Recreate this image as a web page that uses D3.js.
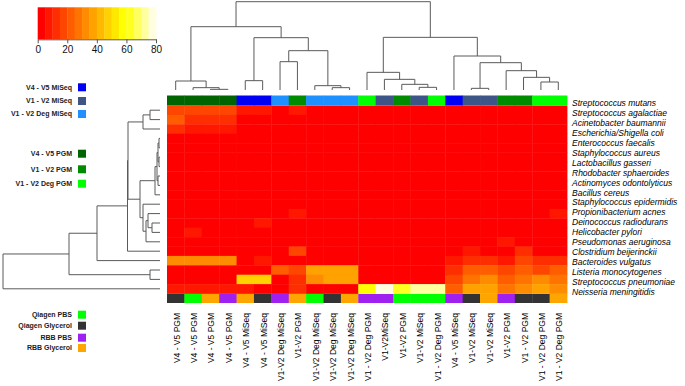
<!DOCTYPE html>
<html>
<head>
<meta charset="utf-8">
<script src="https://cdn.jsdelivr.net/npm/d3@7"></script>
<style>
  body { margin: 0; background: #fff; }
  text { font-family: "Liberation Sans", Arial, sans-serif; }
</style>
</head>
<body>
<div id="heatmap"></div>
<script>
// species (rows, top to bottom)
const species = ["Streptococcus mutans", "Streptococcus agalactiae", "Acinetobacter baumannii",
  "Escherichia/Shigella coli", "Enterococcus faecalis", "Staphylococcus aureus", "Lactobacillus gasseri",
  "Rhodobacter sphaeroides", "Actinomyces odontolyticus", "Bacillus cereus", "Staphylococcus epidermidis",
  "Propionibacterium acnes", "Deinococcus radiodurans", "Helicobacter pylori", "Pseudomonas aeruginosa",
  "Clostridium beijerinckii", "Bacteroides vulgatus", "Listeria monocytogenes",
  "Streptococcus pneumoniae", "Neisseria meningitidis"];

// samples (columns, left to right)
const colLabels = ["V4 - V5 PGM", "V4 - V5 PGM", "V4 - V5 PGM", "V4 - V5 PGM", "V4 - V5 MiSeq",
  "V4 - V5 MiSeq", "V1-V2 Deg MiSeq", "V1-V2 PGM", "V1-V2 Deg MiSeq", "V1-V2 Deg MiSeq",
  "V1-V2 Deg MiSeq", "V1 - V2 Deg PGM", "V1-V2MiSeq", "V1-V2 PGM", "V1-V2 MiSeq", "V1 - V2 Deg PGM",
  "V4 - V5 MiSeq", "V1-V2 MiSeq", "V1-V2 MiSeq", "V1-V2 PGM", "V1 - V2 PGM", "V1 - V2 Deg PGM",
  "V1 - V2 Deg PGM"];

const colMethod = ["V4 - V5 PGM", "V4 - V5 PGM", "V4 - V5 PGM", "V4 - V5 PGM", "V4 - V5 MiSeq",
  "V4 - V5 MiSeq", "V1 - V2 Deg MiSeq", "V1 - V2 PGM", "V1 - V2 Deg MiSeq", "V1 - V2 Deg MiSeq",
  "V1 - V2 Deg MiSeq", "V1 - V2 Deg PGM", "V1 - V2 MiSeq", "V1 - V2 PGM", "V1 - V2 MiSeq",
  "V1 - V2 Deg PGM", "V4 - V5 MiSeq", "V1 - V2 MiSeq", "V1 - V2 MiSeq", "V1 - V2 PGM", "V1 - V2 PGM",
  "V1 - V2 Deg PGM", "V1 - V2 Deg PGM"];

const colBuffer = ["Qiagen Glycerol", "Qiagen PBS", "RBB Glycerol", "RBB PBS", "RBB Glycerol",
  "Qiagen Glycerol", "RBB PBS", "RBB Glycerol", "Qiagen PBS", "Qiagen Glycerol", "RBB Glycerol",
  "RBB PBS", "RBB PBS", "Qiagen PBS", "Qiagen PBS", "Qiagen PBS", "RBB PBS", "Qiagen Glycerol",
  "RBB Glycerol", "RBB PBS", "Qiagen Glycerol", "Qiagen Glycerol", "RBB Glycerol"];

// cell values, one array per species
const values = [
  [17,17,17,17, 8, 8, 3, 8, 0, 0, 0, 0, 0, 0, 0, 0, 0, 0, 0, 0, 0, 0, 0],
  [20,13,13,13, 0, 0, 0, 0, 0, 0, 0, 0, 0, 0, 0, 0, 0, 0, 0, 0, 0, 0, 0],
  [13, 9, 9, 9, 0, 0, 0, 0, 0, 0, 0, 0, 0, 0, 0, 0, 0, 0, 0, 0, 0, 0, 0],
  [ 0, 0, 0, 0, 0, 0, 0, 0, 0, 0, 0, 0, 0, 0, 0, 0, 0, 0, 0, 0, 0, 0, 0],
  [ 0, 0, 0, 0, 0, 0, 0, 0, 0, 0, 0, 0, 0, 0, 0, 0, 0, 0, 0, 0, 0, 0, 0],
  [ 0, 0, 0, 0, 0, 0, 0, 0, 0, 0, 0, 0, 0, 0, 0, 0, 0, 0, 0, 0, 0, 0, 0],
  [ 0, 0, 0, 0, 0, 0, 0, 0, 0, 0, 0, 0, 0, 0, 0, 0, 0, 0, 0, 0, 0, 0, 0],
  [ 0, 0, 0, 0, 0, 0, 0, 0, 0, 0, 0, 0, 0, 0, 0, 0, 0, 0, 0, 0, 0, 0, 0],
  [ 0, 0, 0, 0, 0, 0, 0, 0, 0, 0, 0, 0, 0, 0, 0, 0, 0, 0, 0, 0, 0, 0, 0],
  [ 0, 0, 0, 0, 0, 0, 0, 0, 0, 0, 0, 0, 0, 0, 0, 0, 0, 0, 0, 0, 0, 0, 0],
  [ 0, 0, 0, 0, 0, 0, 0, 0, 0, 0, 0, 0, 0, 0, 0, 0, 0, 0, 0, 0, 0, 0, 0],
  [ 0, 0, 0, 0, 0, 0, 0, 8, 0, 0, 0, 0, 0, 0, 0, 0, 0, 0, 0, 0, 0, 0, 7],
  [ 0, 0, 0, 0, 0, 7, 0, 0, 0, 0, 0, 0, 0, 0, 0, 0, 0, 0, 0, 0, 0, 0, 0],
  [ 0, 7, 0, 0, 0, 0, 0, 0, 0, 0, 0, 0, 0, 0, 0, 0, 0, 0, 0, 0, 0, 0, 0],
  [ 0, 0, 0, 0, 0, 0, 0, 0, 0, 0, 0, 0, 0, 0, 0, 0, 0, 0, 0, 6, 0, 0, 0],
  [ 0, 0, 0, 0, 0, 0, 0,17, 0, 0, 0, 0, 0, 0, 0, 0, 0, 8, 0, 0,14, 0, 0],
  [30,32,32,32, 0, 8, 0, 0, 0, 0, 0, 0, 0, 0, 0, 0, 5,12,12, 8,15,10,10],
  [ 0, 0, 0, 0, 0, 0,22,18,38,38,38, 0, 0, 0, 0, 0,12,22,22,16,20,18,22],
  [ 0, 0, 0, 0,46,46, 0,10,30,37,37, 0, 0, 0, 0, 0,18,28,33,20,25,30,28],
  [ 8, 8, 8, 8, 8, 0, 0,12, 0, 0, 0,57,78,62,70,70,22,38,38,28,30,38,33]
];

// hclust style merges: negative = leaf (1-based), positive = earlier merge step
const colMerge = [
  [-3, -4, 2], [-2, 1, 7], [-1, 2, 27], [-5, -6, 28], [-7, -8, 85], [-10, -11, 7],
  [-9, 6, 13], [5, 7, 118], [4, 8, 157], [3, 9, 190], [-15, -16, 8], [-14, 11, 17],
  [-13, 12, 32], [-12, 13, 53], [-18, -19, 5], [-22, -23, 24], [-21, 16, 38],
  [-20, 17, 58], [15, 18, 82], [-17, 19, 102], [14, 20, 158], [10, 21, 265]
];
const rowMerge = [
  [-1, -2, 10], [1, -3, 17], [-4, -5, 1], [-6, -7, 1], [3, 4, 2], [-8, -9, 2],
  [5, 6, 3], [7, -10, 5], [-13, -14, 8], [-12, 9, 12], [10, -15, 14], [-11, 11, 17],
  [8, 12, 20], [2, 13, 32], [14, -16, 32.5], [15, -17, 63], [-18, -19, 10],
  [16, 17, 91], [18, -20, 157]
];

const keyTicks = [0, 20, 40, 60, 80];
const methodNames = ["V4 - V5 MiSeq", "V1 - V2 MiSeq", "V1 - V2 Deg MiSeq", "V4 - V5 PGM", "V1 - V2 PGM", "V1 - V2 Deg PGM"];
const methodColors = ["#0000f5", "#3d5687", "#1e90ff", "#006400", "#008b00", "#00ff00"];
const bufferNames = ["Qiagen PBS", "Qiagen Glycerol", "RBB PBS", "RBB Glycerol"];
const bufferColors = ["#00ff00", "#333333", "#a020f0", "#ffa500"];

// heat.colors(16)
const heatColors = ["#FF0000", "#FF1700", "#FF2E00", "#FF4600", "#FF5D00", "#FF7400", "#FF8B00", "#FFA200",
  "#FFB900", "#FFD100", "#FFE800", "#FFFF00", "#FFFF20", "#FFFF60", "#FFFF9F", "#FFFFDF"];

const width = 685, height = 386;
const svg = d3.select("#heatmap").append("svg")
  .attr("width", width).attr("height", height);

const color = d3.scaleQuantize().domain([0, 80]).range(heatColors);
const methodColor = d3.scaleOrdinal().domain(methodNames).range(methodColors);
const bufferColor = d3.scaleOrdinal().domain(bufferNames).range(bufferColors);

const x = d3.scaleBand().domain(d3.range(colLabels.length)).range([167, 567]);
const y = d3.scaleBand().domain(d3.range(species.length)).range([105.5, 293.5]);

// heatmap cells
svg.append("g")
  .selectAll("g")
  .data(values)
  .join("g")
  .selectAll("rect")
  .data((row, i) => row.map((v, j) => ({ i, j, v })))
  .join("rect")
  .attr("x", d => x(d.j))
  .attr("y", d => y(d.i))
  .attr("width", x.bandwidth() + 0.4)
  .attr("height", y.bandwidth() + 0.4)
  .attr("fill", d => color(d.v));

// column side colours (top) and buffer bar (bottom)
svg.append("g").selectAll("rect")
  .data(colMethod)
  .join("rect")
  .attr("x", (d, j) => x(j))
  .attr("y", 95.5)
  .attr("width", x.bandwidth() + 0.4)
  .attr("height", 10)
  .attr("fill", d => methodColor(d));

svg.append("g").selectAll("rect")
  .data(colBuffer)
  .join("rect")
  .attr("x", (d, j) => x(j))
  .attr("y", 294)
  .attr("width", x.bandwidth() + 0.4)
  .attr("height", 9)
  .attr("fill", d => bufferColor(d));

// dendrogram segments from a merge table
function treeSegments(merge, leafPos) {
  const nodes = [];
  const segs = [];
  const info = ref => ref < 0 ? { pos: leafPos(-ref - 1), h: 0 } : nodes[ref - 1];
  merge.forEach(([a, b, h]) => {
    const A = info(a), B = info(b);
    segs.push([A.pos, A.h, A.pos, h], [A.pos, h, B.pos, h], [B.pos, h, B.pos, B.h]);
    nodes.push({ pos: (A.pos + B.pos) / 2, h: h });
  });
  return segs;
}

const colH = d3.scaleLinear().domain([0, 265]).range([90, 1.7]);
svg.append("g")
  .attr("stroke", "#5a5a5a").attr("stroke-width", 1)
  .selectAll("line")
  .data(treeSegments(colMerge, j => x(j) + x.bandwidth() / 2))
  .join("line")
  .attr("x1", d => d[0]).attr("y1", d => colH(d[1]))
  .attr("x2", d => d[2]).attr("y2", d => colH(d[3]));

const rowH = d3.scaleLinear().domain([0, 157]).range([160, 3]);
svg.append("g")
  .attr("stroke", "#5a5a5a").attr("stroke-width", 1)
  .selectAll("line")
  .data(treeSegments(rowMerge, i => y(i) + y.bandwidth() / 2))
  .join("line")
  .attr("x1", d => rowH(d[1])).attr("y1", d => d[0])
  .attr("x2", d => rowH(d[3])).attr("y2", d => d[2]);

// row labels
const yLab = d3.scalePoint().domain(species).range([103, 292]);
svg.append("g").selectAll("text")
  .data(species)
  .join("text")
  .attr("x", 572)
  .attr("y", d => yLab(d))
  .attr("dy", "0.35em")
  .attr("font-size", 8.5)
  .attr("font-style", "italic")
  .text(d => d);

// column labels
svg.append("g").selectAll("text")
  .data(colLabels)
  .join("text")
  .attr("transform", (d, j) => `translate(${x(j) + x.bandwidth() / 2 + 1},313) rotate(-90)`)
  .attr("dy", "0.35em")
  .attr("text-anchor", "end")
  .attr("font-size", 8.5)
  .text(d => d);

// colour key
const keyX = d3.scaleLinear().domain([0, 80]).range([37.7, 156]);
const keyG = svg.append("g");
keyG.selectAll("rect")
  .data(heatColors)
  .join("rect")
  .attr("x", (d, k) => keyX(k * 5))
  .attr("y", 7.3)
  .attr("width", keyX(5) - keyX(0) + 0.3)
  .attr("height", 32)
  .attr("fill", d => d);
const keyAxis = svg.append("g")
  .attr("transform", "translate(0,39.3)")
  .call(d3.axisBottom(keyX).tickValues(keyTicks).tickSize(4).tickSizeOuter(0));
keyAxis.selectAll("text").attr("font-size", 10).attr("font-family", "Liberation Sans, Arial, sans-serif").attr("fill", "#111");
keyAxis.selectAll("line,path").attr("stroke", "#555");

// legends
const methodY = [87.3, 101, 114, 153.7, 169.3, 183.7];
const bufferY = [314.7, 325.7, 337.7, 348];
function legend(names, ys, scale) {
  const g = svg.append("g");
  g.selectAll("rect").data(names).join("rect")
    .attr("x", 78).attr("y", (d, i) => ys[i] - 4)
    .attr("width", 8).attr("height", 8)
    .attr("fill", d => scale(d));
  g.selectAll("text").data(names).join("text")
    .attr("x", 72).attr("y", (d, i) => ys[i])
    .attr("dy", "0.35em")
    .attr("text-anchor", "end")
    .attr("font-size", 7)
    .attr("font-weight", "bold")
    .attr("fill", "#222")
    .text(d => d);
}
legend(methodNames, methodY, methodColor);
legend(bufferNames, bufferY, bufferColor);
</script>
</body>
</html>
